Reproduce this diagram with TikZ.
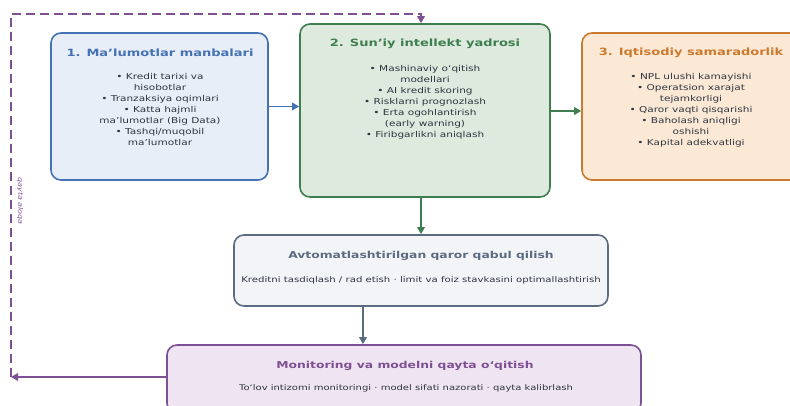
\documentclass[tikz,border=0pt]{standalone}
\usepackage{fontspec}
\setmainfont[FakeStretch=1.3]{DejaVu Sans}
\usetikzlibrary{arrows.meta}
\definecolor{bluec}{HTML}{4472B4}
\definecolor{bluef}{HTML}{E8EEF7}
\definecolor{greenc}{HTML}{3F7F4F}
\definecolor{greenf}{HTML}{DDEADD}
\definecolor{orangec}{HTML}{CC7A2E}
\definecolor{orangef}{HTML}{FBE9D6}
\definecolor{grayc}{HTML}{5B6B80}
\definecolor{grayf}{HTML}{F3F4F8}
\definecolor{purplec}{HTML}{7D4F93}
\definecolor{purplef}{HTML}{EFE4F1}
\definecolor{bodyc}{HTML}{2E3440}
\begin{document}
\begin{tikzpicture}[x=1pt,y=-1pt,
  box/.style={draw, line width=1.6pt, rounded corners=10pt, inner sep=0pt},
  ttl/.style={font=\fontsize{10}{12}\selectfont\bfseries, anchor=center, inner sep=0pt},
  ttlb/.style={font=\fontsize{9.5}{12}\selectfont\bfseries, anchor=center, inner sep=0pt},
  body/.style={font=\fontsize{8.1}{11}\selectfont, text=bodyc, align=center, anchor=north, inner sep=0pt},
  small/.style={text=bodyc, anchor=center, inner sep=0pt},
  arr/.style={line width=1.8pt, -{Triangle[length=7pt,width=7.5pt]}}
]
\useasboundingbox (0,0) rectangle (790,405);

% boxes
\node[box, draw=bluec, fill=bluef, minimum width=217pt, minimum height=147pt] (b1) at (159.5,106.5) {};
\node[box, draw=greenc, fill=greenf, minimum width=250pt, minimum height=173pt] (b2) at (425,110.5) {};
\node[box, draw=orangec, fill=orangef, minimum width=218pt, minimum height=147pt] (b3) at (691,106.5) {};
\node[box, draw=grayc, fill=grayf, minimum width=374pt, minimum height=71pt] (b4) at (421,270.5) {};
\node[box, draw=purplec, fill=purplef, minimum width=474pt, minimum height=68pt] (b5) at (404,379) {};

% texts
\node[ttl, text=bluec] (t1) at (160,53) {1. Ma’lumotlar manbalari};
\node[body] (l1) at (160,73) {• Kredit tarixi va\\hisobotlar\\• Tranzaksiya oqimlari\\• Katta hajmli\\ma’lumotlar (Big Data)\\• Tashqi/muqobil\\ma’lumotlar};

\node[ttl, text=greenc] (t2) at (425,44) {2. Sun’iy intellekt yadrosi};
\node[body] (l2) at (425,65) {• Mashinaviy o‘qitish\\modellari\\• AI kredit skoring\\• Risklarni prognozlash\\• Erta ogohlantirish\\(early warning)\\• Firibgarlikni aniqlash};

\node[ttl, text=orangec] (t3) at (691,53) {3. Iqtisodiy samaradorlik};
\node[body] (l3) at (691,73) {• NPL ulushi kamayishi\\• Operatsion xarajat\\tejamkorligi\\• Qaror vaqti qisqarishi\\• Baholash aniqligi\\oshishi\\• Kapital adekvatligi};

\node[ttlb, text=grayc] (t4) at (421,256) {Avtomatlashtirilgan qaror qabul qilish};
\node[small, font=\fontsize{7.8}{10}\selectfont] (s4) at (421,280) {Kreditni tasdiqlash / rad etish · limit va foiz stavkasini optimallashtirish};

\node[ttlb, text=purplec] (t5) at (405,366) {Monitoring va modelni qayta o‘qitish};
\node[small, font=\fontsize{7.7}{10}\selectfont] (s5) at (406,388) {To‘lov intizomi monitoringi · model sifati nazorati · qayta kalibrlash};

\node[font=\fontsize{6.2}{8}\selectfont\itshape, text=purplec, rotate=-90, inner sep=0pt] (fbl) at (20,201) {qayta aloqa};

% connectors
\coordinate (x363) at (363,0);
\draw[arr, bluec] (b1.east) -- (b1.east -| b2.west);
\draw[arr, greenc] (b2.east |- 0,111) -- (b3.west |- 0,111);
\draw[arr, greenc] (b4.north |- b2.south) -- (b4.north);
\draw[arr, grayc] (x363 |- b4.south) -- (x363 |- b5.north);

\coordinate (fb1) at (11,377);
\coordinate (fb2) at (11,14);
\coordinate (fb3) at (421,14);
\draw[arr, purplec] (b5.west |- fb1) -- (fb1);
\draw[purplec, line width=1.6pt, dash pattern=on 9pt off 5pt] (fb1) -- (fb2) -- (fb3) -- (fb3 |- 0,17);
\draw[arr, purplec] (fb3 |- 0,16) -- (fb3 |- b2.north);
\end{tikzpicture}
\end{document}
